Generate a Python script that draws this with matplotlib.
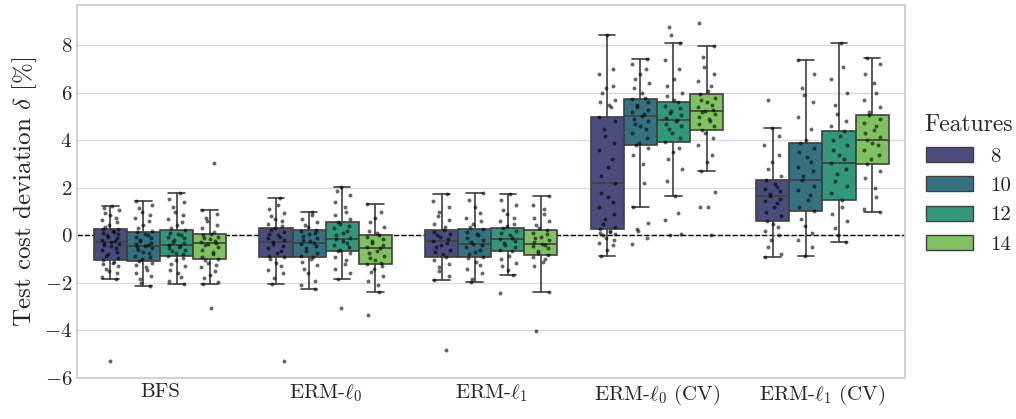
import numpy as np
import seaborn as sns
from matplotlib import pyplot as plt
from matplotlib.patches import Patch

methods = ["BFS", r"ERM-$\ell_0$", r"ERM-$\ell_1$", r"ERM-$\ell_0$ (CV)", r"ERM-$\ell_1$ (CV)"]
features = ["8", "10", "12", "14"]

# box stats: (whislo, q1, med, q3, whishi)
bfs_box = [(-1.82, -1.05, -0.27, 0.29, 1.23), (-2.13, -1.06, -0.46, 0.13, 1.43),
           (-2.06, -0.87, -0.39, 0.22, 1.79), (-2.06, -1.01, -0.32, 0.06, 1.05)]
erm0_box = [(-2.06, -0.91, -0.27, 0.31, 1.57), (-2.27, -0.91, -0.32, 0.24, 0.98),
            (-1.83, -0.66, -0.17, 0.57, 2.02), (-2.37, -1.22, -0.55, 0.01, 1.34)]
erm1_box = [(-1.86, -0.90, -0.22, 0.24, 1.75), (-1.97, -0.90, -0.36, 0.25, 1.78),
            (-1.65, -0.67, -0.17, 0.32, 1.74), (-2.40, -0.81, -0.35, 0.22, 1.67)]
erm0cv_box = [(-0.88, 0.28, 2.20, 5.00, 8.45), (1.20, 3.81, 5.01, 5.74, 7.41),
              (1.65, 3.92, 4.87, 5.60, 8.11), (2.72, 4.45, 5.25, 5.94, 7.98)]
erm1cv_box = [(-0.91, 0.59, 1.65, 2.32, 4.51), (-0.88, 1.01, 2.32, 3.88, 7.37),
              (-0.29, 1.48, 3.04, 4.41, 8.11), (0.99, 3.00, 4.02, 5.07, 7.48)]

# individual runs (estimated from the scatter)
bfs_pts = [
    [-5.3, -1.82, -1.75, -1.6, -1.5, -1.4, -1.3, -1.2, -1.15, -1.1, -1.05, -0.95, -0.85, -0.8, -0.7,
     -0.6, -0.55, -0.45, -0.4, -0.35, -0.3, -0.27, -0.22, -0.18, -0.1, -0.05, 0.0, 0.05, 0.1, 0.15,
     0.2, 0.25, 0.29, 0.35, 0.45, 0.55, 0.65, 0.75, 0.85, 0.95, 1.05, 1.15, 1.23],
    [-2.13, -2.0, -1.85, -1.7, -1.6, -1.45, -1.35, -1.25, -1.15, -1.06, -1.0, -0.9, -0.85, -0.75,
     -0.7, -0.6, -0.55, -0.5, -0.46, -0.42, -0.35, -0.3, -0.25, -0.2, -0.12, -0.05, 0.0, 0.08, 0.13,
     0.2, 0.3, 0.45, 0.6, 0.75, 0.85, 1.0, 1.15, 1.3, 1.43],
    [-2.06, -1.9, -1.75, -1.6, -1.45, -1.3, -1.2, -1.05, -0.95, -0.87, -0.8, -0.72, -0.65, -0.6,
     -0.55, -0.5, -0.45, -0.39, -0.33, -0.28, -0.2, -0.12, -0.05, 0.0, 0.05, 0.12, 0.22, 0.3, 0.42,
     0.55, 0.7, 0.85, 1.0, 1.2, 1.4, 1.55, 1.79],
    [-3.04, -2.06, -1.95, -1.8, -1.65, -1.5, -1.35, -1.25, -1.15, -1.05, -1.01, -0.9, -0.8, -0.7,
     -0.6, -0.5, -0.42, -0.38, -0.32, -0.28, -0.22, -0.15, -0.1, -0.05, 0.0, 0.06, 0.15, 0.3, 0.45,
     0.6, 0.75, 0.9, 1.05, 3.05],
]
erm0_pts = [
    [-5.27, -2.06, -1.8, -1.6, -1.45, -1.3, -1.15, -1.0, -0.91, -0.85, -0.75, -0.65, -0.55, -0.45,
     -0.35, -0.27, -0.2, -0.12, -0.05, 0.0, 0.08, 0.15, 0.22, 0.31, 0.4, 0.5, 0.6, 0.7, 0.8, 0.95,
     1.1, 1.3, 1.57],
    [-2.27, -2.1, -1.9, -1.6, -1.4, -1.25, -1.1, -0.98, -0.91, -0.85, -0.75, -0.65, -0.55, -0.45,
     -0.38, -0.32, -0.25, -0.18, -0.1, -0.02, 0.05, 0.12, 0.18, 0.24, 0.35, 0.45, 0.55, 0.7, 0.85,
     0.98],
    [-3.05, -1.83, -1.6, -1.4, -1.2, -1.05, -0.9, -0.75, -0.66, -0.6, -0.5, -0.4, -0.3, -0.22,
     -0.17, -0.1, 0.0, 0.1, 0.2, 0.3, 0.4, 0.5, 0.57, 0.7, 0.85, 1.0, 1.2, 1.4, 1.7, 1.85, 2.02],
    [-3.35, -2.37, -2.1, -1.9, -1.7, -1.55, -1.4, -1.3, -1.22, -1.15, -1.05, -0.95, -0.85, -0.75,
     -0.65, -0.55, -0.48, -0.4, -0.3, -0.22, -0.15, -0.08, 0.01, 0.1, 0.2, 0.35, 0.55, 0.75, 1.0,
     1.34],
]
erm1_pts = [
    [-4.83, -1.86, -1.7, -1.5, -1.35, -1.2, -1.05, -0.9, -0.8, -0.7, -0.6, -0.5, -0.4, -0.3, -0.22,
     -0.15, -0.08, 0.0, 0.08, 0.15, 0.24, 0.35, 0.5, 0.65, 0.8, 1.0, 1.2, 1.45, 1.75],
    [-1.97, -1.85, -1.6, -1.4, -1.25, -1.1, -0.95, -0.9, -0.8, -0.7, -0.6, -0.5, -0.42, -0.36,
     -0.28, -0.2, -0.1, 0.0, 0.08, 0.15, 0.25, 0.35, 0.5, 0.6, 0.75, 0.95, 1.2, 1.5, 1.78],
    [-2.42, -1.65, -1.45, -1.3, -1.15, -1.0, -0.85, -0.67, -0.6, -0.5, -0.4, -0.3, -0.22, -0.17,
     -0.1, 0.0, 0.1, 0.2, 0.32, 0.4, 0.5, 0.6, 0.75, 0.9, 1.05, 1.3, 1.5, 1.74],
    [-4.03, -2.4, -1.3, -1.1, -1.0, -0.9, -0.81, -0.75, -0.65, -0.55, -0.45, -0.4, -0.35, -0.28,
     -0.2, -0.12, -0.05, 0.05, 0.12, 0.22, 0.3, 0.45, 0.6, 0.75, 0.9, 1.1, 1.3, 1.67],
]
erm0cv_pts = [
    [-0.88, -0.6, -0.4, -0.3, -0.2, -0.1, 0.0, 0.05, 0.1, 0.15, 0.2, 0.28, 0.35, 0.5, 0.7, 0.9,
     1.2, 1.4, 1.6, 1.8, 2.2, 2.5, 2.9, 3.2, 3.6, 3.9, 4.2, 4.5, 4.8, 5.0, 5.4, 5.5, 5.6, 5.7, 6.0,
     6.2, 6.3, 6.8, 7.0, 8.45],
    [-0.38, -0.1, 0.18, 0.25, 0.53, 1.2, 2.2, 3.0, 3.4, 3.7, 3.81, 3.9, 4.1, 4.3, 4.5, 4.6, 4.7,
     4.8, 4.9, 5.01, 5.1, 5.2, 5.3, 5.4, 5.5, 5.6, 5.74, 5.8, 6.0, 6.2, 6.4, 6.6, 6.8, 7.0, 7.2,
     7.41],
    [0.02, 0.06, 0.67, 0.95, 1.65, 2.3, 2.8, 3.2, 3.5, 3.7, 3.92, 4.1, 4.3, 4.5, 4.6, 4.7, 4.8,
     4.87, 4.95, 5.05, 5.15, 5.25, 5.35, 5.45, 5.6, 5.7, 5.85, 6.0, 6.3, 6.6, 7.0, 7.4, 8.11, 8.45,
     8.77],
    [0.0, 1.19, 1.21, 1.82, 2.72, 3.1, 3.4, 3.8, 4.1, 4.3, 4.45, 4.6, 4.7, 4.8, 4.9, 5.0, 5.1, 5.2,
     5.25, 5.3, 5.4, 5.5, 5.6, 5.7, 5.8, 5.94, 6.1, 6.3, 6.5, 6.8, 7.1, 7.5, 7.98, 8.96],
]
erm1cv_pts = [
    [-0.91, -0.8, -0.5, -0.2, 0.0, 0.2, 0.35, 0.5, 0.59, 0.8, 1.0, 1.2, 1.35, 1.45, 1.55, 1.65,
     1.75, 1.85, 1.95, 2.05, 2.15, 2.32, 2.5, 2.8, 3.1, 3.4, 3.8, 4.2, 4.51, 5.69],
    [-0.88, -0.5, -0.2, 0.1, 0.4, 0.7, 1.01, 1.2, 1.5, 1.7, 1.9, 2.1, 2.32, 2.5, 2.7, 2.9, 3.1,
     3.3, 3.5, 3.7, 3.88, 4.0, 4.5, 5.0, 5.6, 5.9, 6.2, 6.8, 7.37],
    [-0.29, 0.0, 0.3, 0.6, 0.9, 1.2, 1.48, 1.8, 2.1, 2.3, 2.6, 2.8, 3.04, 3.2, 3.4, 3.6, 3.8, 4.0,
     4.2, 4.41, 4.6, 4.8, 5.1, 5.5, 6.0, 6.6, 7.1, 8.11],
    [0.99, 1.1, 1.6, 2.0, 2.4, 2.7, 3.0, 3.2, 3.4, 3.6, 3.8, 3.9, 4.02, 4.15, 4.3, 4.45, 4.6, 4.75,
     4.9, 5.07, 5.2, 5.4, 5.7, 6.0, 6.4, 6.8, 7.2, 7.48],
]

all_box = [bfs_box, erm0_box, erm1_box, erm0cv_box, erm1cv_box]
all_pts = [bfs_pts, erm0_pts, erm1_pts, erm0cv_pts, erm1cv_pts]

sns.set_theme(style="whitegrid")
plt.rcParams["font.family"] = "serif"
plt.rcParams["font.serif"] = ["cmr10"]
plt.rcParams["mathtext.fontset"] = "cm"
plt.rcParams["axes.formatter.use_mathtext"] = True

colors = [sns.desaturate(c, 0.75) for c in sns.color_palette("viridis", 4)]
edge = "#3f3f3f"

fig = plt.figure(figsize=(10.16, 4.19), dpi=100)
ax = fig.add_axes([0.076, 0.098, 0.815, 0.89])

ax.axhline(0, color="black", ls="--", lw=1.0, zorder=1.5)

width = 0.2
for i, (boxes, pts) in enumerate(zip(all_box, all_pts)):
    for j in range(4):
        pos = i - 0.3 + j * width
        lo, q1, med, q3, hi = boxes[j]
        stats = [dict(whislo=lo, q1=q1, med=med, q3=q3, whishi=hi, fliers=[])]
        ax.bxp(stats, positions=[pos], widths=width, patch_artist=True, showfliers=False,
               boxprops=dict(facecolor=colors[j], edgecolor=edge, lw=1.2),
               medianprops=dict(color=edge, lw=1.2),
               whiskerprops=dict(color=edge, lw=1.2),
               capprops=dict(color=edge, lw=1.2),
               capwidths=width * 0.5, manage_ticks=False, zorder=2)
        y = np.array(pts[j])
        # deterministic jitter so the dots spread sideways
        jit = 0.05 * np.sin(np.arange(len(y)) * 2.399 + i * 1.3 + j)
        ax.scatter(pos + jit, y, s=8, color="black", alpha=0.6, lw=0, zorder=3)

ax.set_xlim(-0.5, 4.5)
ax.set_ylim(-6, 9.7)
ax.set_xticks(range(5))
ax.set_xticklabels(methods)
ax.set_yticks(range(-6, 9, 2))
ax.tick_params(labelsize=15, length=0)
ax.grid(axis="x", visible=False)
ax.grid(axis="y", color="#d9d9d9", lw=1)
for s in ax.spines.values():
    s.set_color("#cccccc")
ax.set_ylabel(r"Test cost deviation $\delta$ [%]", fontsize=18)

handles = [Patch(facecolor=colors[k], edgecolor=edge, lw=1.0, label=features[k]) for k in range(4)]
leg = ax.legend(handles=handles, title="Features", loc="center left", bbox_to_anchor=(1.0, 0.52),
                frameon=False, fontsize=15, title_fontsize=17, handlelength=2.3, handleheight=0.75)

fig.savefig("out.png", dpi=100)
